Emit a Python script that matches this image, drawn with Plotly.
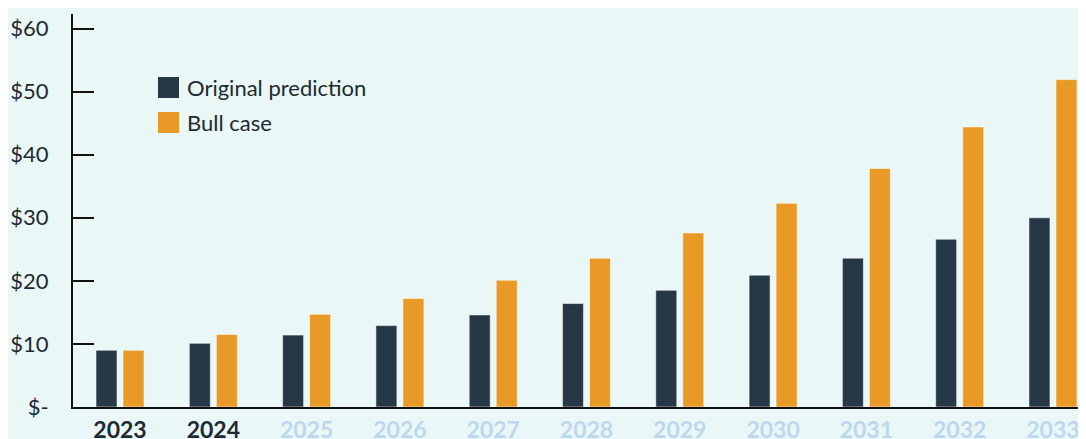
import plotly.graph_objects as go

years = ["2023", "2024", "2025", "2026", "2027", "2028", "2029", "2030", "2031", "2032", "2033"]
original_prediction = [9.0, 10.1, 11.4, 12.9, 14.6, 16.4, 18.5, 20.9, 23.6, 26.6, 30.0]
bull_case = [9.0, 11.5, 14.7, 17.2, 20.1, 23.6, 27.6, 32.3, 37.8, 44.4, 51.9]
y_tick_vals = [0, 10, 20, 30, 40, 50, 60]
y_tick_text = ["$-", "$10", "$20", "$30", "$40", "$50", "$60"]
actual_years = ["2023", "2024"]
series_names = ["Original prediction", "Bull case"]

BG = "#E9F7F7"
DARK = "#263746"
ORANGE = "#E99A26"
TEXT = "#1E2A33"
LIGHT = "#BDD7EF"
FONT = "Lato"

# page body has an 8px margin; figure is sized/placed to compensate
OFF = 8
W, H = 1086 - OFF, 439 - OFF
ML, MR, MT, MB = 73 - OFF, 0, 14 - OFF, 32
PW, PH = W - ML - MR, H - MT - MB

def px_x(p):
    return (p - OFF - ML) / PW

def px_y(p):
    return (H - MB - (p - OFF)) / PH

x_tick_text = [
    f'<b><span style="color:{TEXT if y in actual_years else LIGHT}">{y}</span></b>'
    for y in years
]

fig = go.Figure()
for name, vals, col in [(series_names[0], original_prediction, DARK),
                        (series_names[1], bull_case, ORANGE)]:
    fig.add_trace(go.Bar(
        x=years, y=vals, name=name, showlegend=False,
        marker=dict(color=col, line=dict(color="rgba(255,255,255,0.55)", width=1)),
    ))

# legend drawn manually (large square swatches)
shapes = []
annotations = []
for i, (name, col) in enumerate(zip(series_names, [DARK, ORANGE])):
    top = 77 + i * 35
    shapes.append(dict(type="rect", xref="paper", yref="paper",
                       x0=px_x(158), x1=px_x(179), y0=px_y(top + 21), y1=px_y(top),
                       fillcolor=col, line=dict(width=0)))
    annotations.append(dict(xref="paper", yref="paper", x=px_x(185), y=px_y(top + 10.5),
                            text=name, showarrow=False, xanchor="left", yanchor="middle",
                            font=dict(family=FONT, size=22, color=TEXT)))

fig.update_layout(
    width=W, height=H,
    margin=dict(l=ML, r=MR, t=MT, b=MB, autoexpand=False),
    paper_bgcolor=BG, plot_bgcolor=BG,
    barmode="group", bargap=0.421, bargroupgap=0.222,
    font=dict(family=FONT, color=TEXT),
    shapes=shapes, annotations=annotations,
    xaxis=dict(
        type="category", range=[-0.504, 10.354],
        tickvals=years, ticktext=x_tick_text,
        tickfont=dict(family=FONT, size=23),
        showline=True, linecolor="#111111", linewidth=2,
        showgrid=False, ticks="", fixedrange=True, ticklabelstandoff=1,
        automargin=False,
    ),
    yaxis=dict(
        range=[0, 62.3], tickvals=y_tick_vals, ticktext=y_tick_text,
        tickfont=dict(family=FONT, size=22, color=TEXT),
        showline=True, linecolor="#111111", linewidth=2,
        ticks="inside", ticklen=21, tickwidth=2, tickcolor="#111111",
        showgrid=False, zeroline=False, ticklabelstandoff=18,
        automargin=False,
    ),
)

fig.write_html("out.html")
